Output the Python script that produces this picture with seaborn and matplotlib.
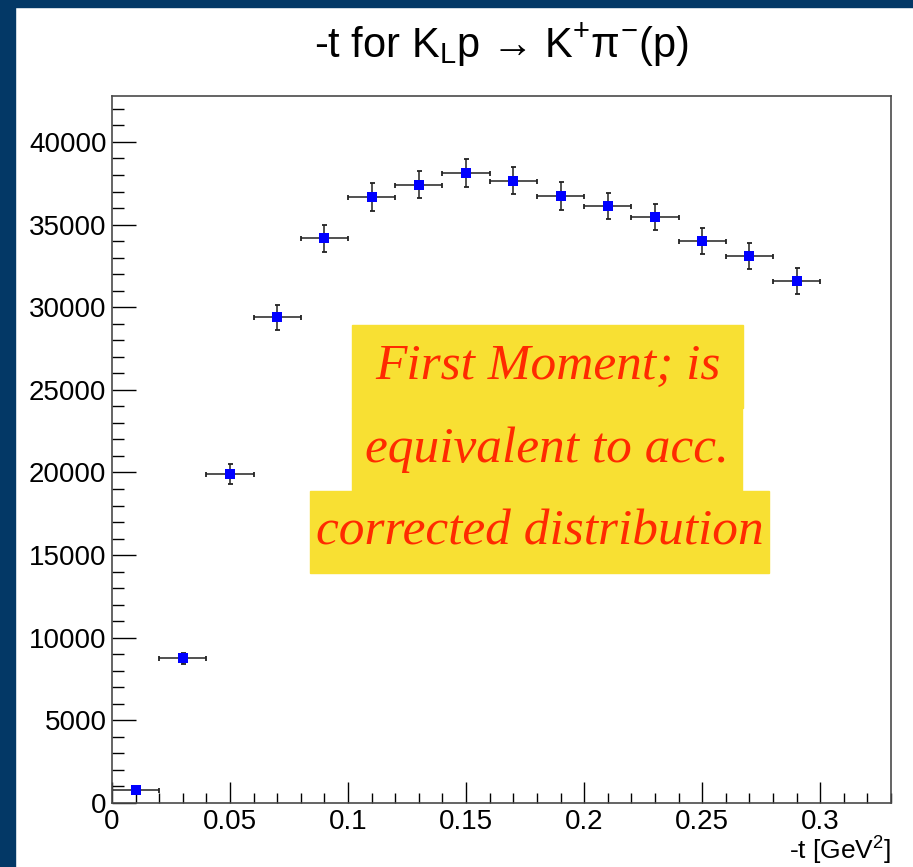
import matplotlib
matplotlib.use("Agg")
import matplotlib.pyplot as plt
from matplotlib.patches import Rectangle
from matplotlib.ticker import MultipleLocator, FixedLocator, FixedFormatter
import seaborn as sns
import pandas as pd

# ---- data ----
t_centers = [0.01, 0.03, 0.05, 0.07, 0.09, 0.11, 0.13, 0.15, 0.17, 0.19, 0.21, 0.23, 0.25, 0.27, 0.29]
counts = [770, 8757, 19890, 29390, 34170, 36650, 37420, 38105, 37665, 36730, 36127, 35450, 33990, 33085, 31570]
count_err = [30, 340, 610, 770, 820, 850, 830, 850, 830, 820, 800, 800, 790, 790, 775]
t_halfwidth = [0.01] * 15

x_tick_vals = [0, 0.05, 0.1, 0.15, 0.2, 0.25, 0.3]
x_tick_labels = ["0", "0.05", "0.1", "0.15", "0.2", "0.25", "0.3"]
y_tick_vals = [0, 5000, 10000, 15000, 20000, 25000, 30000, 35000, 40000]
y_tick_labels = ["0", "5000", "10000", "15000", "20000", "25000", "30000", "35000", "40000"]

title_text = r"-t for K$_\mathregular{L}$p → K$^\mathregular{+}$π$^\mathregular{-}$(p)"
xlabel_text = r"-t [GeV$^\mathregular{2}$]"
note_lines = ["First Moment; is", "equivalent to acc.", "corrected distribution"]

df = pd.DataFrame({"t": t_centers, "n": counts})

sns.set_theme(style="white")
plt.rcParams["font.family"] = ["Liberation Sans", "DejaVu Sans"]
plt.rcParams["mathtext.fontset"] = "custom"
plt.rcParams["mathtext.rm"] = "Liberation Sans"

W, H = 913, 867
fig = plt.figure(figsize=(W / 100, H / 100), dpi=100, facecolor="white")

# dark blue slide frame
frame_col = "#033866"
fig.patches.append(Rectangle((0, 0), 15 / W, 1, transform=fig.transFigure, color=frame_col, zorder=0))
fig.patches.append(Rectangle((0, 1 - 7 / H), 1, 7 / H, transform=fig.transFigure, color=frame_col, zorder=0))

ax = fig.add_axes([112 / W, 1 - 803 / H, (891 - 112) / W, (803 - 96) / H])
ax.set_facecolor("white")

ax.errorbar(t_centers, counts, xerr=t_halfwidth, yerr=count_err, fmt="none",
            ecolor="#222222", elinewidth=1.1, capsize=1.8, capthick=1.3, zorder=2)
sns.scatterplot(data=df, x="t", y="n", marker="s", s=52, color="#0000ff",
                edgecolor="#0000ff", linewidth=0, ax=ax, zorder=3, legend=False)

ax.set_xlim(0, 0.33)
ax.set_ylim(0, 42780)

ax.xaxis.set_major_locator(FixedLocator(x_tick_vals))
ax.xaxis.set_major_formatter(FixedFormatter(x_tick_labels))
ax.xaxis.set_minor_locator(MultipleLocator(0.01))
ax.yaxis.set_major_locator(FixedLocator(y_tick_vals))
ax.yaxis.set_major_formatter(FixedFormatter(y_tick_labels))
ax.yaxis.set_minor_locator(MultipleLocator(1000))

ax.tick_params(axis="both", which="both", direction="in", colors="black",
               labelsize=20, top=False, right=False, bottom=True, left=True)
ax.tick_params(axis="y", which="major", length=17, width=1.0, pad=4)
ax.tick_params(axis="y", which="minor", length=8.6, width=1.0)
ax.tick_params(axis="x", which="major", length=15, width=1.0, pad=4)
ax.tick_params(axis="x", which="minor", length=7.5, width=1.0)

for sp in ax.spines.values():
    sp.set_visible(True)
    sp.set_color("#4a4a4a")
    sp.set_linewidth(1.2)

ax.set_xlabel(xlabel_text, loc="right", fontsize=19, labelpad=-1, color="black")
ax.set_ylabel("")

fig.text(501 / W, 1 - 45 / H, title_text, ha="center", va="center", fontsize=30, color="black")

# yellow note boxes
yellow = "#f8e033"
red = "#ff2a00"
boxes = [(352, 325, 743, 408), (352, 408, 742, 491), (310, 491, 769, 573)]
for (x0, y0, x1, y1), line in zip(boxes, note_lines):
    fig.patches.append(Rectangle((x0 / W, 1 - y1 / H), (x1 - x0) / W, (y1 - y0) / H,
                                 transform=fig.transFigure, color=yellow, zorder=5))
    fig.text(((x0 + x1) / 2) / W, 1 - ((y0 + y1) / 2) / H, line, ha="center", va="center",
             fontsize=37, color=red, family=["Liberation Serif", "DejaVu Serif"],
             style="italic", zorder=6)

fig.savefig("out.png", dpi=100, facecolor="white")
